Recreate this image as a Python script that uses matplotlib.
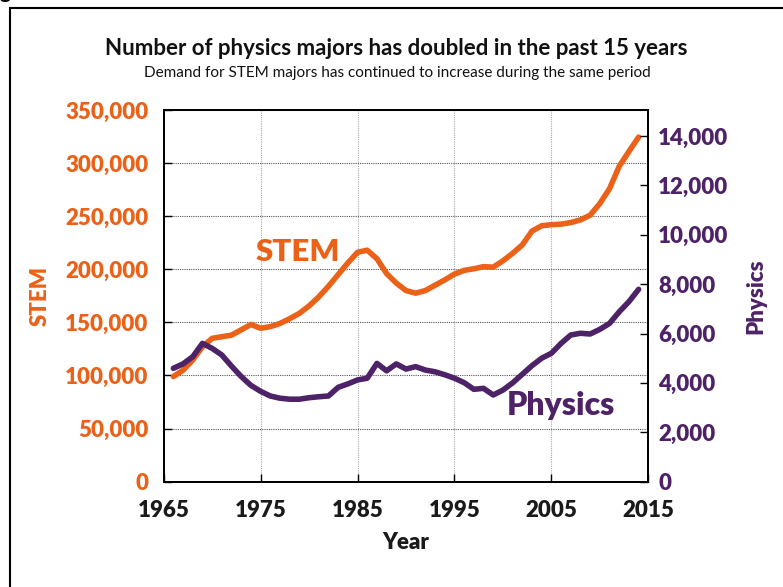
import matplotlib
matplotlib.use("Agg")
import matplotlib.pyplot as plt
from matplotlib.patches import Rectangle
from matplotlib.ticker import FuncFormatter, MultipleLocator

# Values, one per year 1966-2014
years = list(range(1966, 2015))
stem = [99000, 105000, 114500, 127000, 135000, 136500, 138000, 143000, 148000, 144500,
        146000, 149000, 153500, 158500, 165500, 174000, 184000, 195000, 206000, 216000,
        218000, 210000, 196000, 187000, 180000, 177500, 180000, 185000, 190000, 195500,
        199000, 200500, 202500, 202000, 208000, 215000, 223000, 236000, 241000, 242000,
        242500, 244000, 246500, 251000, 262000, 276000, 297000, 311000, 324500]
physics = [4590, 4770, 5060, 5600, 5400, 5130, 4680, 4260, 3900, 3660,
           3470, 3380, 3340, 3340, 3400, 3440, 3470, 3820, 3960, 4120,
           4190, 4790, 4490, 4770, 4560, 4660, 4520, 4450, 4330, 4190,
           4010, 3740, 3780, 3510, 3710, 4000, 4350, 4700, 5000, 5200,
           5600, 5940, 6010, 5980, 6170, 6410, 6880, 7290, 7790]

year_ticks = [1965, 1975, 1985, 1995, 2005, 2015]

orange = "#EB6117"
purple = "#4D2266"

plt.rcParams["font.family"] = ["Lato", "DejaVu Sans"]

fig = plt.figure(figsize=(7.83, 5.87), dpi=100)
ax = fig.add_axes([0.209, 0.1794, 0.619, 0.6332])
ax2 = ax.twinx()

ax.plot(years, stem, color=orange, lw=4, solid_capstyle="round", solid_joinstyle="round")
ax2.plot(years, physics, color=purple, lw=4, solid_capstyle="round", solid_joinstyle="round")

ax.set_xlim(1965, 2015)
ax.set_ylim(0, 350000)
ax2.set_ylim(0, 15050)
ax.set_xticks(year_ticks)
ax.yaxis.set_major_locator(MultipleLocator(50000))
ax2.yaxis.set_major_locator(MultipleLocator(2000))
comma = FuncFormatter(lambda v, p: f"{int(v):,}")
ax.yaxis.set_major_formatter(comma)
ax2.yaxis.set_major_formatter(comma)

ax.grid(axis="y", color="#555555", linestyle=(0, (1, 1)), lw=0.8)
ax.grid(axis="x", color="#aaaaaa", linestyle=(0, (1, 1)), lw=0.8)

for a in (ax, ax2):
    for s in a.spines.values():
        s.set_color("black")
        s.set_linewidth(1.3)

ax.tick_params(axis="x", direction="in", length=6, width=1, pad=13, labelsize=16,
               labelcolor="#1a1a1a")
ax.tick_params(axis="y", direction="in", length=6, width=1, pad=11, labelsize=16,
               labelcolor=orange)
ax2.tick_params(axis="y", direction="in", length=6, width=1, pad=7, labelsize=16,
                labelcolor=purple)
for lab in ax.get_xticklabels() + ax.get_yticklabels() + ax2.get_yticklabels():
    lab.set_fontweight("heavy")

ax.set_xlabel("Year", fontsize=16, fontweight="heavy", color="#1a1a1a", labelpad=8)
ax.set_ylabel("STEM", fontsize=16, fontweight="heavy", color=orange, labelpad=10)
ax2.set_ylabel("Physics", fontsize=16, fontweight="heavy", color=purple, labelpad=12)

ax.text(1978.85, 216000, "STEM", color=orange, fontsize=22.5, fontweight="heavy",
        ha="center", va="center")
ax2.text(2006.0, 3100, "Physics", color=purple, fontsize=23, fontweight="heavy",
         ha="center", va="center")

fig.text(0.506, 0.918, "Number of physics majors has doubled in the past 15 years",
         ha="center", va="center", fontsize=16, fontweight="bold", color="#111111")
fig.text(0.508, 0.875, "Demand for STEM majors has continued to increase during the same period",
         ha="center", va="center", fontsize=11, color="#111111")

# outer frame, running off the right and bottom edges
fig.patches.append(Rectangle((10 / 783, -0.1), 1.2, 1.1 - 8 / 587,
                             transform=fig.transFigure, fill=False,
                             edgecolor="black", lw=1.5))
fig.text(0.0, 1.0 + 2 / 587, "g", fontsize=15, fontweight="bold", va="baseline", ha="left")

fig.savefig("out.png", dpi=100)
